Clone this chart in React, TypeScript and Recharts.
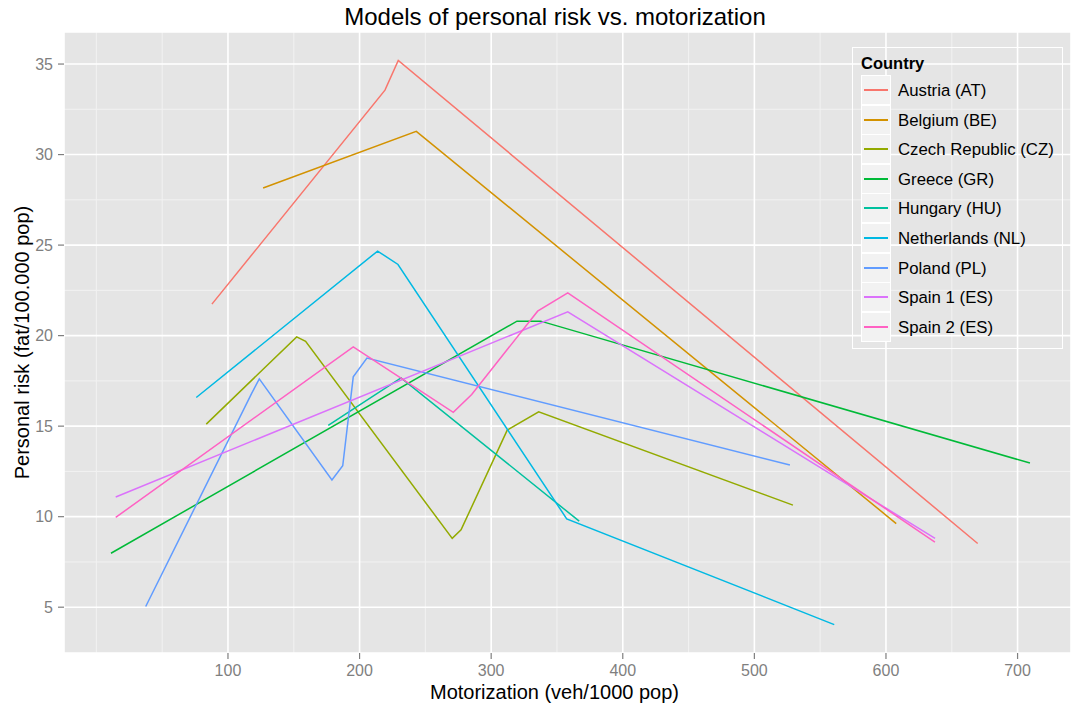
import React from 'react'
import {
  CartesianGrid,
  Label,
  Line,
  LineChart,
  XAxis,
  YAxis,
} from 'recharts'

// series: [motorization, personal risk]
const austria = [[87.8, 21.74], [219.3, 33.56], [229.4, 35.2], [669.7, 8.52]]
const belgium = [[126.7, 28.15], [243.1, 31.28], [607.8, 9.62]]
const czech = [
  [83.5, 15.11], [152.2, 19.93], [159.0, 19.68], [270.4, 8.8],
  [277.1, 9.27], [312.2, 14.78], [336.1, 15.79], [529.3, 10.64],
]
const greece = [[11.1, 7.98], [319.6, 20.8], [337.6, 20.8], [709.4, 12.96]]
const hungary = [[176.2, 15.04], [231.5, 17.67], [366.9, 9.75]]
const netherlands = [[75.9, 16.58], [213.7, 24.67], [229.2, 23.93], [357.4, 9.88], [560.7, 4.04]]
const poland = [
  [37.5, 5.04], [118.0, 16.81], [123.8, 17.61], [179.0, 12.03],
  [187.2, 12.81], [195.2, 17.72], [205.6, 18.76], [527.0, 12.85],
]
const spain1 = [[14.7, 11.09], [358.2, 21.31], [637.3, 8.8]]
const spain2 = [
  [14.7, 9.96], [195.2, 19.38], [271.2, 15.76], [285.2, 16.75],
  [335.3, 21.35], [358.2, 22.36], [637.2, 8.59],
]

const countries = [
  'Austria (AT)',
  'Belgium (BE)',
  'Czech Republic (CZ)',
  'Greece (GR)',
  'Hungary (HU)',
  'Netherlands (NL)',
  'Poland (PL)',
  'Spain 1 (ES)',
  'Spain 2 (ES)',
]
const seriesValues = [austria, belgium, czech, greece, hungary, netherlands, poland, spain1, spain2]
const colors = ['#F8766D', '#D39200', '#93AA00', '#00BA38', '#00C19F', '#00B9E3', '#619CFF', '#DB72FB', '#FF61C3']

const xTicks = [100, 200, 300, 400, 500, 600, 700]
const yTicks = [5, 10, 15, 20, 25, 30, 35]
const xMinor = [0, 50, 150, 250, 350, 450, 550, 650]
const yMinor = [7.5, 12.5, 17.5, 22.5, 27.5, 32.5]

const FONT = '"Liberation Sans", Arial, sans-serif'
const tickStyle = { fill: '#7F7F7F', fontSize: 16, fontFamily: FONT }

function LegendBox() {
  return (
    <div
      style={{
        position: 'absolute',
        left: 852,
        top: 47,
        width: 209,
        height: 300,
        border: '1px solid #fff',
        fontFamily: FONT,
      }}
    >
      <div style={{ position: 'absolute', left: 8, top: 6, fontSize: 16.5, fontWeight: 'bold' }}>
        Country
      </div>
      {countries.map((name, i) => (
        <div key={name} style={{ position: 'absolute', left: 8, top: 27 + i * 29.6, height: 29.6 }}>
          <div
            style={{
              position: 'absolute',
              left: 0,
              top: 0,
              width: 28,
              height: 28,
              background: '#F2F2F2',
              border: '1px solid #fff',
            }}
          >
            <div
              style={{
                position: 'absolute',
                left: 2,
                top: 13,
                width: 24,
                height: 2,
                background: colors[i],
              }}
            />
          </div>
          <div
            style={{
              position: 'absolute',
              left: 37,
              top: 6,
              fontSize: 16.8,
              whiteSpace: 'nowrap',
              color: '#000',
            }}
          >
            {name}
          </div>
        </div>
      ))}
    </div>
  )
}

export default function App() {
  return (
    <div style={{ position: 'absolute', left: 0, top: 0, width: 1071, height: 706, overflow: 'hidden', background: '#fff' }}>
      <div
        style={{
          position: 'absolute',
          left: 0,
          width: 1110,
          top: 3,
          textAlign: 'center',
          fontFamily: FONT,
          fontSize: 24,
          color: '#000',
        }}
      >
        Models of personal risk vs. motorization
      </div>
      <LineChart
        width={1071}
        height={706}
        margin={{ top: 32, right: 0, bottom: 0, left: 0 }}
      >
        <CartesianGrid
          fill="#E5E5E5"
          stroke="#F2F2F2"
          strokeWidth={1}
          verticalValues={xMinor}
          horizontalValues={yMinor}
        />
        <CartesianGrid stroke="#FFFFFF" strokeWidth={1.6} />
        <XAxis
          type="number"
          dataKey="x"
          domain={[-24.6, 740.6]}
          ticks={xTicks}
          allowDataOverflow
          height={53}
          axisLine={false}
          tickLine={{ stroke: '#7F7F7F', strokeWidth: 1.2 }}
          tickSize={6}
          tickMargin={6}
          tick={tickStyle}
        >
          <Label
            value="Motorization (veh/1000 pop)"
            position="insideBottom"
            offset={7}
            dx={-13}
            style={{ fill: '#000', fontSize: 20, fontFamily: FONT }}
          />
        </XAxis>
        <YAxis
          type="number"
          domain={[2.47, 36.77]}
          ticks={yTicks}
          allowDataOverflow
          width={64}
          axisLine={false}
          tickLine={{ stroke: '#7F7F7F', strokeWidth: 1.2 }}
          tickSize={6}
          tickMargin={5}
          tick={tickStyle}
        >
          <Label
            value="Personal risk (fat/100.000 pop)"
            angle={-90}
            position="insideLeft"
            offset={22}
            style={{ fill: '#000', fontSize: 20, fontFamily: FONT, textAnchor: 'middle' }}
          />
        </YAxis>
        {seriesValues.map((pts, i) => (
          <Line
            key={countries[i]}
            data={pts.map(([x, y]) => ({ x, y }))}
            dataKey="y"
            name={countries[i]}
            type="linear"
            stroke={colors[i]}
            strokeWidth={1.5}
            dot={false}
            activeDot={false}
            isAnimationActive={false}
          />
        ))}
      </LineChart>
      <LegendBox />
    </div>
  )
}
